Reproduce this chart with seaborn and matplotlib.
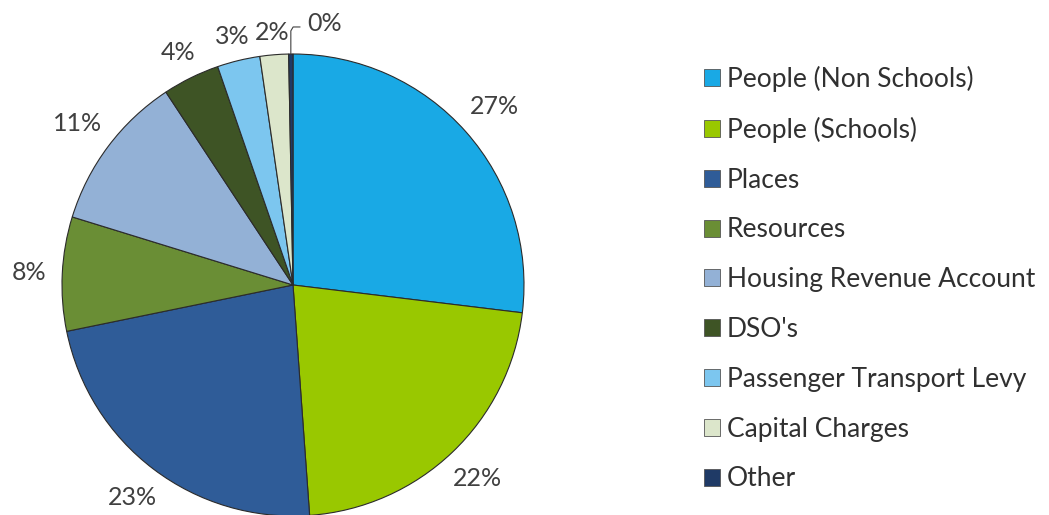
import numpy as np
import matplotlib
matplotlib.use("Agg")
import matplotlib.pyplot as plt
import seaborn as sns

categories = ["People (Non Schools)", "People (Schools)", "Places", "Resources",
              "Housing Revenue Account", "DSO's", "Passenger Transport Levy",
              "Capital Charges", "Other"]
values = [27, 22, 23, 8, 11, 4, 3, 2, 0.3]
pct_labels = ["27%", "22%", "23%", "8%", "11%", "4%", "3%", "2%", "0%"]
colors = ["#19a9e5", "#99c800", "#2f5c98", "#6a8e35", "#93b1d6",
          "#3e5425", "#7cc6ef", "#dce6cb", "#1f3a66"]

sns.set_theme(style="white")
plt.rcParams['font.family'] = ['Lato', 'DejaVu Sans']

fig = plt.figure(figsize=(10.49, 5.15), dpi=100)
ax = fig.add_axes([62/1049, -1/515, 462/1049, 462/515])

wedges, _ = ax.pie(values, colors=colors, startangle=90, counterclock=False,
                   radius=1.0,
                   wedgeprops=dict(edgecolor="#2b2b2b", linewidth=0.8))
ax.set_xlim(-1, 1)
ax.set_ylim(-1, 1)
ax.set_aspect("equal")

txtcol = "#404040"
texts = []
for w, lab in zip(wedges[:-1], pct_labels[:-1]):
    t = ax.text(0, 0, lab, ha="center", va="center", fontsize=18, color=txtcol)
    texts.append((w, t))

fig.canvas.draw()
renderer = fig.canvas.get_renderer()
r_px = ax.transData.transform((1, 0))[0] - ax.transData.transform((0, 0))[0]
gap = 1.07
for w, t in texts:
    ang = np.deg2rad((w.theta1 + w.theta2) / 2)
    bb = t.get_window_extent(renderer)
    hw, hh = bb.width / 2, bb.height * 0.22
    support = abs(np.cos(ang)) * hw + abs(np.sin(ang)) * hh
    r = gap + support / r_px
    t.set_position((r * np.cos(ang), r * np.sin(ang)))

w = wedges[-1]
ang = np.deg2rad((w.theta1 + w.theta2) / 2)
x0, y0 = np.cos(ang), np.sin(ang)
ax.plot([x0, x0, x0 + 0.01, x0 + 0.04], [y0, 1.10, 1.117, 1.117],
        color="#404040", linewidth=0.8, clip_on=False)
ax.text(x0 + 0.07, 1.13, pct_labels[-1], ha="left", va="center",
        fontsize=18, color=txtcol)

leg = fig.legend(wedges, categories, loc="upper left",
                 bbox_to_anchor=(680/1049, 1 - 42/515), frameon=False,
                 fontsize=19, handlelength=0.62, handleheight=0.62,
                 handletextpad=0.25, labelspacing=0.94, labelcolor="#303030")
for h in leg.legend_handles:
    h.set_linewidth(0.6)
    h.set_edgecolor("#555555")

fig.savefig("out.png", dpi=100, facecolor="white")
